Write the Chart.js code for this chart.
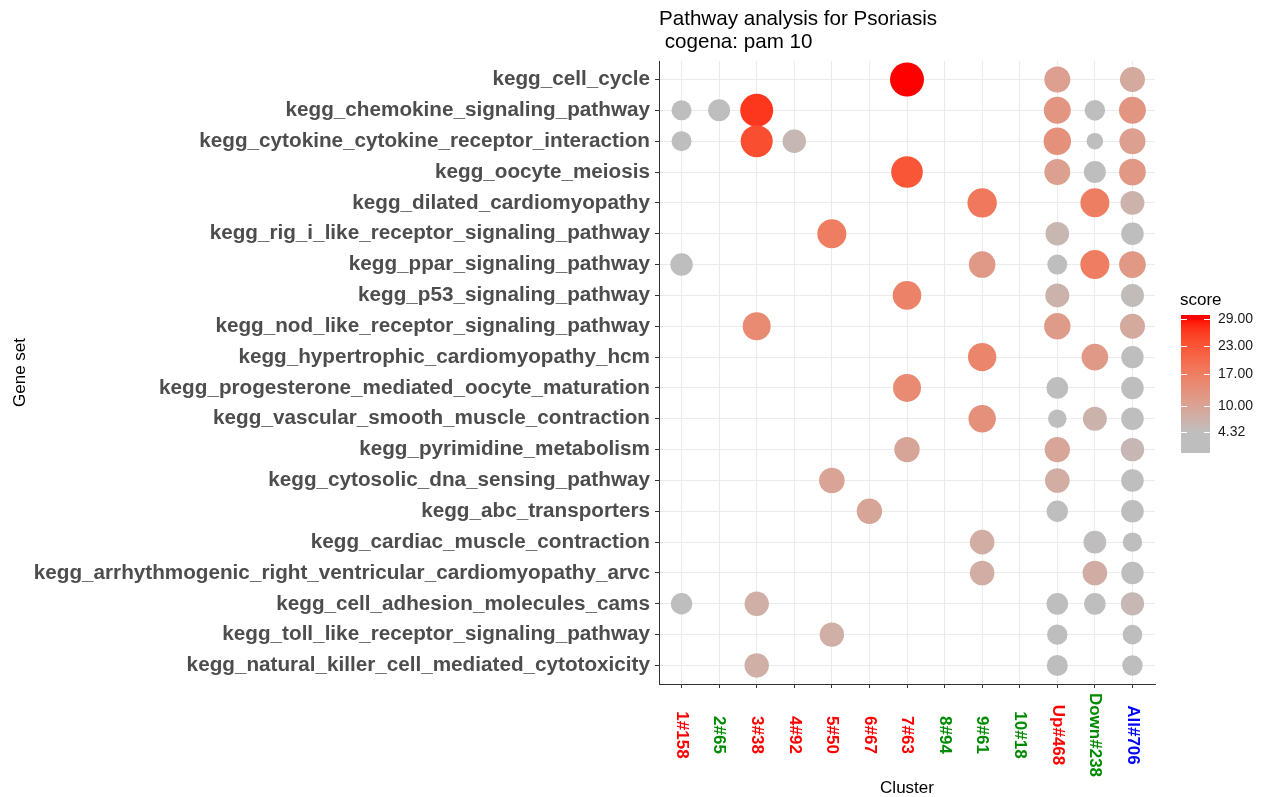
<!DOCTYPE html>
<html lang="en">
<head>
    <meta charset="UTF-8">
    <title>Pathway analysis for Psoriasis</title>
    <script src="https://cdn.jsdelivr.net/npm/chart.js"></script>
    <style>
        body { margin: 0; background: #ffffff; }
        canvas { display: block; }
    </style>
</head>
<body>
    <canvas id="pathwayChart" width="1264" height="797"></canvas>

    <script>
        // Clusters on the x axis, with the colour of their labels
        const clusters = ['1#158', '2#65', '3#38', '4#92', '5#50', '6#67', '7#63', '8#94', '9#61', '10#18', 'Up#468', 'Down#238', 'All#706'];
        const clusterColors = ['#FF0000', '#008B00', '#FF0000', '#FF0000', '#FF0000', '#FF0000', '#FF0000', '#008B00', '#008B00', '#008B00', '#FF0000', '#008B00', '#0000FF'];

        const geneSets = [
            'kegg_cell_cycle',
            'kegg_chemokine_signaling_pathway',
            'kegg_cytokine_cytokine_receptor_interaction',
            'kegg_oocyte_meiosis',
            'kegg_dilated_cardiomyopathy',
            'kegg_rig_i_like_receptor_signaling_pathway',
            'kegg_ppar_signaling_pathway',
            'kegg_p53_signaling_pathway',
            'kegg_nod_like_receptor_signaling_pathway',
            'kegg_hypertrophic_cardiomyopathy_hcm',
            'kegg_progesterone_mediated_oocyte_maturation',
            'kegg_vascular_smooth_muscle_contraction',
            'kegg_pyrimidine_metabolism',
            'kegg_cytosolic_dna_sensing_pathway',
            'kegg_abc_transporters',
            'kegg_cardiac_muscle_contraction',
            'kegg_arrhythmogenic_right_ventricular_cardiomyopathy_arvc',
            'kegg_cell_adhesion_molecules_cams',
            'kegg_toll_like_receptor_signaling_pathway',
            'kegg_natural_killer_cell_mediated_cytotoxicity'
        ];

        // score per gene set (rows) and cluster (columns), null = no point
        const n = null;
        const scores = [
            [n, n, n, n, n, n, 29, n, n, n, 10.6, n, 8.6],
            [0.0, 3.2, 26.4, n, n, n, n, n, n, n, 12.5, 0.9, 12.5],
            [0.0, n, 24, 5.7, n, n, n, n, n, n, 13.5, -4.8, 10.6],
            [n, n, n, n, n, n, 23, n, n, n, 10.5, 3.2, 12],
            [n, n, n, n, n, n, n, n, 17.8, n, n, 16.9, 6.7],
            [n, n, n, n, 17, n, n, n, n, n, 6, n, 4.2],
            [3.9, n, n, n, n, n, n, n, 11.8, n, 0, 17, 12],
            [n, n, n, n, n, n, 16, n, n, n, 6.7, n, 4.9],
            [n, n, 14.7, n, n, n, n, n, n, n, 11.5, n, 8.6],
            [n, n, n, n, n, n, n, n, 15.5, n, n, 11.8, 3.9],
            [n, n, n, n, n, n, 14.7, n, n, n, 2.6, n, 4.2],
            [n, n, n, n, n, n, n, n, 13.5, n, -2.1, 6.7, 4.3],
            [n, n, n, n, n, n, 9.4, n, n, n, 9.3, n, 5.7],
            [n, n, n, n, 9.8, n, n, n, n, n, 7.9, n, 4.2],
            [n, n, n, n, n, 9.4, n, n, n, n, 2.2, n, 4.2],
            [n, n, n, n, n, n, n, n, 7.9, n, n, 4.5, -0.9],
            [n, n, n, n, n, n, n, n, 7.9, n, n, 8, 3.9],
            [2.2, n, 7.5, n, n, n, n, n, n, n, 2.6, 2.6, 5.5],
            [n, n, n, n, 7.5, n, n, n, n, n, 0.6, n, -0.5],
            [n, n, 7.5, n, n, n, n, n, n, n, 1.6, n, 0.6]
        ];

        const legendBreaks = [29, 23, 17, 10, 4.32];
        const scoreLow = 4.32;
        const scoreHigh = 29;

        // --- colour scale: grey -> red, interpolated in Lab ---
        function toLab(rgb) {
            const lin = rgb.map(v => { v /= 255; return v > 0.04045 ? Math.pow((v + 0.055) / 1.055, 2.4) : v / 12.92; });
            let x = (lin[0] * 0.4124 + lin[1] * 0.3576 + lin[2] * 0.1805) / 0.95047;
            let y = (lin[0] * 0.2126 + lin[1] * 0.7152 + lin[2] * 0.0722);
            let z = (lin[0] * 0.0193 + lin[1] * 0.1192 + lin[2] * 0.9505) / 1.08883;
            const f = t => t > 0.008856 ? Math.cbrt(t) : 7.787 * t + 16 / 116;
            x = f(x); y = f(y); z = f(z);
            return [116 * y - 16, 500 * (x - y), 200 * (y - z)];
        }
        function fromLab(lab) {
            let y = (lab[0] + 16) / 116, x = lab[1] / 500 + y, z = y - lab[2] / 200;
            const g = t => t * t * t > 0.008856 ? t * t * t : (t - 16 / 116) / 7.787;
            x = g(x) * 0.95047; y = g(y); z = g(z) * 1.08883;
            const r = x * 3.2406 + y * -1.5372 + z * -0.4986;
            const gg = x * -0.9689 + y * 1.8758 + z * 0.0415;
            const b = x * 0.0557 + y * -0.2040 + z * 1.0570;
            return [r, gg, b].map(v => {
                v = v > 0.0031308 ? 1.055 * Math.pow(v, 1 / 2.4) - 0.055 : 12.92 * v;
                return Math.round(Math.max(0, Math.min(1, v)) * 255);
            });
        }
        const greyLab = toLab([190, 190, 190]);
        const redLab = toLab([255, 0, 0]);
        function scoreColor(s) {
            let t = (s - scoreLow) / (scoreHigh - scoreLow);
            t = Math.max(0, Math.min(1, t));
            const lab = greyLab.map((v, i) => v + (redLab[i] - v) * t);
            const c = fromLab(lab);
            return `rgb(${c[0]}, ${c[1]}, ${c[2]})`;
        }
        function scoreRadius(s) {
            return Math.sqrt(Math.max(30, 100 + 6.52 * s));
        }

        // --- build points ---
        const points = [];
        scores.forEach((row, yi) => {
            row.forEach((s, xi) => {
                if (s !== null) points.push({ x: xi, y: yi, r: scoreRadius(s), s: s });
            });
        });

        const fontFamily = "'Liberation Sans', Arial, sans-serif";

        // title, rotated cluster labels, axis titles and colour bar
        const decorations = {
            id: 'decorations',
            afterDraw(chart) {
                const ctx = chart.ctx;
                const area = chart.chartArea;
                const xScale = chart.scales.x;
                ctx.save();

                // title
                ctx.fillStyle = '#000000';
                ctx.font = `20.6px ${fontFamily}`;
                ctx.textAlign = 'left';
                ctx.textBaseline = 'alphabetic';
                ctx.fillText('Pathway analysis for Psoriasis', area.left, 25);
                ctx.fillText(' cogena: pam 10', area.left, 48);

                // cluster labels, reading top to bottom
                ctx.font = `bold 17px ${fontFamily}`;
                ctx.textAlign = 'center';
                ctx.textBaseline = 'middle';
                clusters.forEach((label, i) => {
                    ctx.save();
                    ctx.translate(xScale.getPixelForValue(i), 735);
                    ctx.rotate(Math.PI / 2);
                    ctx.fillStyle = clusterColors[i];
                    ctx.fillText(label, 0, 0);
                    ctx.restore();
                });

                // axis titles
                ctx.fillStyle = '#000000';
                ctx.font = `17px ${fontFamily}`;
                ctx.fillText('Cluster', (area.left + area.right) / 2, 788);
                ctx.save();
                ctx.translate(20, (area.top + area.bottom) / 2);
                ctx.rotate(-Math.PI / 2);
                ctx.fillText('Gene set', 0, 0);
                ctx.restore();

                // colour bar
                const barX = 1181, barW = 29, barTop = 315, barBottom = 453;
                const pxPerUnit = 4.58, y29 = 318.7;
                const yFor = s => y29 + (29 - s) * pxPerUnit;
                for (let y = barTop; y < barBottom; y++) {
                    const s = 29 - (y + 0.5 - y29) / pxPerUnit;
                    ctx.fillStyle = scoreColor(s);
                    ctx.fillRect(barX, y, barW, 1);
                }
                ctx.strokeStyle = '#ffffff';
                ctx.lineWidth = 1;
                ctx.font = `14px ${fontFamily}`;
                ctx.textAlign = 'left';
                legendBreaks.forEach(b => {
                    const y = Math.round(yFor(b)) + 0.5;
                    ctx.beginPath();
                    ctx.moveTo(barX, y); ctx.lineTo(barX + 6, y);
                    ctx.moveTo(barX + barW - 6, y); ctx.lineTo(barX + barW, y);
                    ctx.stroke();
                    ctx.fillStyle = '#1A1A1A';
                    ctx.fillText(b.toFixed(2), 1218, y);
                });
                ctx.fillStyle = '#000000';
                ctx.font = `17px ${fontFamily}`;
                ctx.textBaseline = 'alphabetic';
                ctx.fillText('score', 1180, 305);

                ctx.restore();
            }
        };

        function createPathwayChart() {
            const ctx = document.getElementById('pathwayChart').getContext('2d');
            new Chart(ctx, {
                type: 'bubble',
                data: {
                    datasets: [{
                        label: 'score',
                        data: points,
                        backgroundColor: points.map(p => scoreColor(p.s)),
                        borderWidth: 0,
                        hoverBorderWidth: 0
                    }]
                },
                options: {
                    responsive: false,
                    devicePixelRatio: 1,
                    animation: false,
                    events: [],
                    layout: { padding: { top: 61, right: 109, left: 0, bottom: 0 } },
                    plugins: {
                        legend: { display: false },
                        title: { display: false },
                        tooltip: { enabled: false }
                    },
                    scales: {
                        x: {
                            type: 'linear',
                            min: -0.6,
                            max: clusters.length - 1 + 0.6,
                            afterBuildTicks: axis => { axis.ticks = clusters.map((_, i) => ({ value: i })); },
                            afterFit: axis => { axis.height = 113; },
                            ticks: { display: false },
                            grid: { color: '#EBEBEB', lineWidth: 1, drawTicks: true, tickLength: 4, tickColor: '#333333' },
                            border: { display: true, color: '#333333', width: 1 }
                        },
                        y: {
                            type: 'linear',
                            reverse: true,
                            min: -0.6,
                            max: geneSets.length - 1 + 0.6,
                            afterBuildTicks: axis => { axis.ticks = geneSets.map((_, i) => ({ value: i })); },
                            afterFit: axis => { axis.width = 659; },
                            ticks: {
                                autoSkip: false,
                                padding: 5,
                                color: '#4D4D4D',
                                font: { family: fontFamily, size: 20.7, weight: 'bold' },
                                callback: value => geneSets[value]
                            },
                            grid: { color: '#EBEBEB', lineWidth: 1, drawTicks: true, tickLength: 4, tickColor: '#333333' },
                            border: { display: true, color: '#333333', width: 1 }
                        }
                    }
                },
                plugins: [decorations]
            });
        }

        window.addEventListener('load', createPathwayChart);
    </script>
</body>
</html>
